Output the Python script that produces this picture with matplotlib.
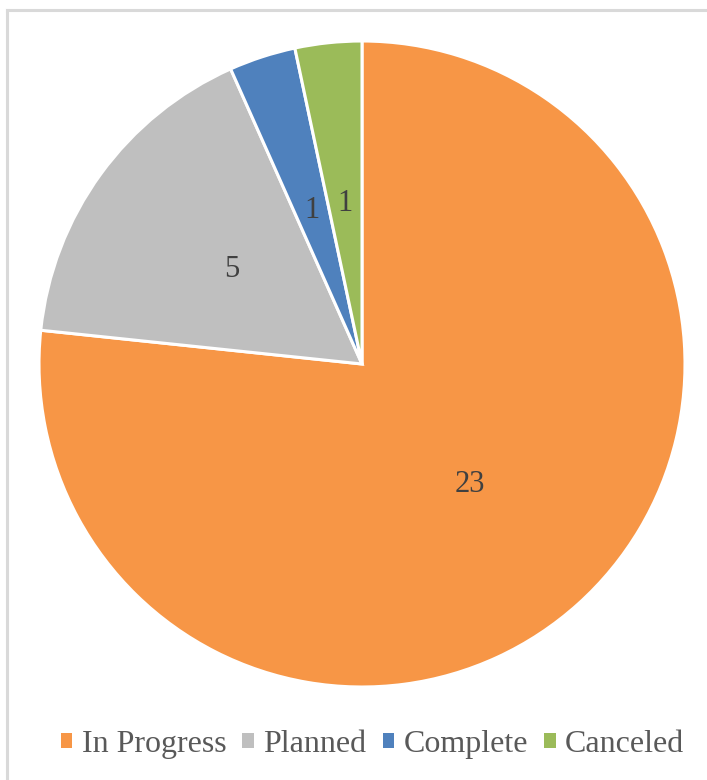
import matplotlib
matplotlib.use('Agg')
import matplotlib.pyplot as plt
from matplotlib.patches import Patch
from matplotlib.lines import Line2D

statuses = ['In Progress', 'Planned', 'Complete', 'Canceled']
counts = [23, 5, 1, 1]
colors = ['#F79646', '#BFBFBF', '#4F81BD', '#9BBB59']

plt.rcParams['font.family'] = ['Liberation Serif', 'DejaVu Serif']

W, H = 707, 780
fig = plt.figure(figsize=(W / 100, H / 100), dpi=100)

# chart frame (only top and left edges are visible in the crop)
fig.add_artist(Line2D([7 / W, 1.0], [1 - 10 / H, 1 - 10 / H], color='#D9D9D9', lw=2.2))
fig.add_artist(Line2D([7 / W, 7 / W], [0.0, 1 - 10 / H], color='#D9D9D9', lw=2.2))

cx, cy, r = 362, 364, 323
ax = fig.add_axes([(cx - r) / W, (H - cy - r) / H, 2 * r / W, 2 * r / H])

wedges, texts, autotexts = ax.pie(
    counts, colors=colors, startangle=90, counterclock=False,
    autopct=lambda p: '{:.0f}'.format(p * sum(counts) / 100),
    pctdistance=0.5,
    wedgeprops=dict(edgecolor='white', linewidth=2.2),
    textprops=dict(fontsize=22, color='#404040'))
ax.set_xlim(-1, 1)
ax.set_ylim(-1, 1)
ax.set_aspect('equal')
ax.axis('off')

handles = [Patch(facecolor=c, edgecolor='none') for c in colors]
fig.legend(handles, statuses, loc='center', bbox_to_anchor=(0.527, 0.046),
           ncol=4, frameon=False, fontsize=23, labelcolor='#595959',
           handlelength=0.36, handleheight=0.36, handletextpad=0.3,
           columnspacing=0.5)

fig.savefig('out.png', dpi=100)
